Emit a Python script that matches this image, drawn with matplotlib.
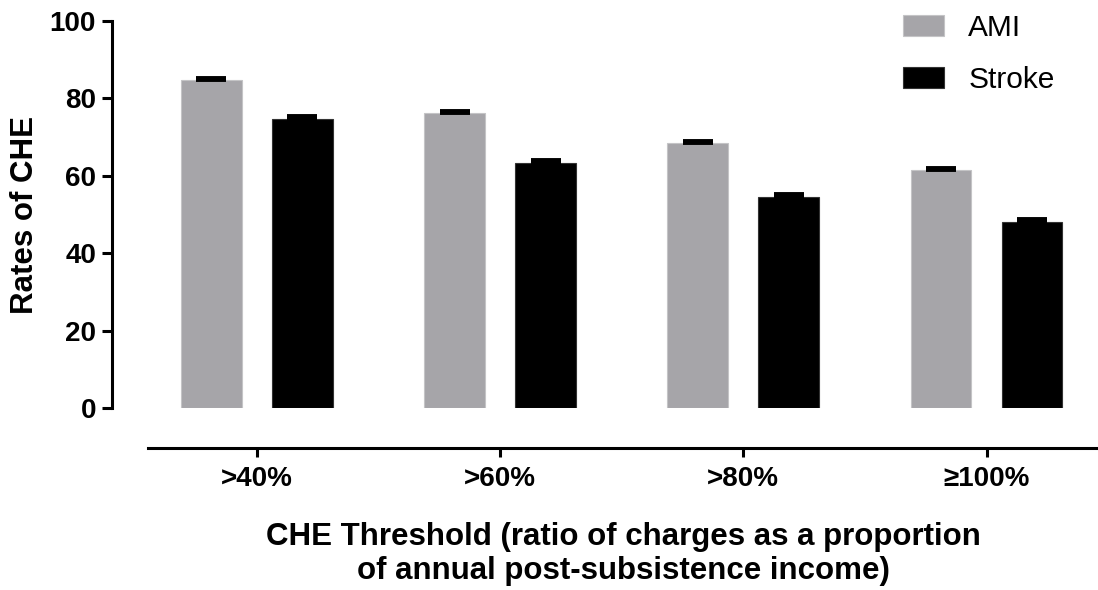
import numpy as np
from matplotlib import pyplot as plt

plt.rcParams["font.family"] = ["Liberation Sans", "DejaVu Sans"]

thresholds = [">40%", ">60%", ">80%", "≥100%"]
ami_rates = [84.7, 76.2, 68.5, 61.5]
ami_err = [0.6, 0.6, 0.6, 0.6]
stroke_rates = [74.7, 63.3, 54.6, 48.0]
stroke_err = [0.7, 0.7, 0.7, 0.8]

AMI_COLOR = "#a6a5a9"
STROKE_COLOR = "#000000"

W, H = 1098, 590
fig = plt.figure(figsize=(W / 100, H / 100), dpi=100)
ax = fig.add_axes([112 / W, (H - 408) / H, (W - 112) / W, (408 - 21) / H])

x = np.arange(len(thresholds))
offset = 0.187
width = 0.25

ax.bar(x - offset, ami_rates, width, color=AMI_COLOR, edgecolor="#c4c4c6",
       linewidth=0.8, label="AMI", zorder=2)
ax.bar(x + offset, stroke_rates, width, color=STROKE_COLOR, edgecolor="#333333",
       linewidth=0.8, label="Stroke", zorder=2)

# only the upper half of the error bars is visible
ax.errorbar(x - offset, ami_rates, yerr=[np.zeros(4), ami_err], fmt="none",
            ecolor="black", elinewidth=2.5, capsize=10.8, capthick=2.8, zorder=3)
ax.errorbar(x + offset, stroke_rates, yerr=[np.zeros(4), stroke_err], fmt="none",
            ecolor="black", elinewidth=2.5, capsize=10.8, capthick=2.8, zorder=3)

ax.set_xlim(-0.595, 3.458)
ax.set_ylim(0, 100)

for s in ["top", "right"]:
    ax.spines[s].set_visible(False)
ax.spines["left"].set_linewidth(2.2)
ax.spines["left"].set_bounds(0, 100)
ax.spines["bottom"].set_linewidth(2.2)
ax.spines["bottom"].set_position(("outward", 28.6))
ax.spines["bottom"].set_bounds(-0.447, 3.458)

ax.set_yticks([0, 20, 40, 60, 80, 100])
ax.set_xticks(x)
ax.set_xticklabels(thresholds)
ax.tick_params(axis="y", length=7.5, width=2.2, pad=4, labelsize=20)
ax.tick_params(axis="x", length=6.5, width=2.2, pad=7, labelsize=20)
for lab in ax.get_xticklabels() + ax.get_yticklabels():
    lab.set_fontweight("bold")

ax.set_ylabel("Rates of CHE", fontsize=22.5, fontweight="bold", labelpad=7)

fig.text(623 / W, 1 - 554 / H,
         "CHE Threshold (ratio of charges as a proportion\nof annual post-subsistence income)",
         ha="center", va="center", fontsize=22.5, fontweight="bold", linespacing=1.15)

ax.legend(loc="upper left", bbox_to_anchor=(903 / W, 1 - 14 / H),
          bbox_transform=fig.transFigure, frameon=False, fontsize=21.5,
          borderpad=0, borderaxespad=0,
          handlelength=1.38, handleheight=0.68, handletextpad=0.8,
          labelspacing=0.8)

fig.savefig("out.png", dpi=100)
